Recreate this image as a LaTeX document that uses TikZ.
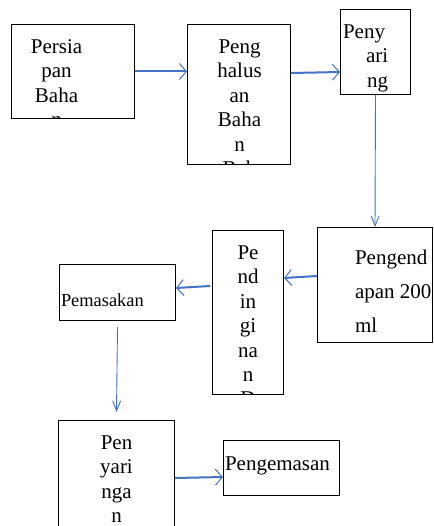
\documentclass[tikz,border=0pt]{standalone}
\usepackage{fontspec}
\setmainfont{Liberation Serif}
\usetikzlibrary{arrows.meta}
\definecolor{arrowblue}{RGB}{68,114,196}
\begin{document}
\begin{tikzpicture}[x=1pt, y=-1pt,
    box/.style = {draw, line width=1pt, anchor=north west, inner sep=0pt},
    txt/.style = {font=\fontsize{21}{24.4}\selectfont, inner sep=0pt, minimum width=0pt, minimum height=0pt, anchor=base, align=center},
    flow/.style = {arrowblue, line width=2pt, -{Straight Barb[length=7pt,width=16pt,line width=1pt]}},
    drop/.style = {arrowblue, line width=0.9pt, -{Straight Barb[length=10pt,width=8pt,line width=0.9pt]}}]
    \useasboundingbox (0,0) rectangle (433,526);
    % boxes, text clipped to each box (base = last line)
    \node[box, minimum width=123pt, minimum height=94pt, path picture={
        \node[txt] at ([xshift=45pt,yshift=-102.2pt]path picture bounding box.north west) {Persia\\pan\\Baha\\n};}] (1) at (11,24) {};
    \node[box, minimum width=103pt, minimum height=140pt, path picture={
        \node[txt] at ([xshift=52pt,yshift=-151pt]path picture bounding box.north west) {Peng\\halus\\an\\Baha\\n\\Bah};}] (2) at (187,24) {};
    \node[box, minimum width=70pt, minimum height=85pt, path picture={
        \node[txt, anchor=base west, align=left] at ([xshift=2pt,yshift=-77.8pt]path picture bounding box.north west) {Peny\\\hspace*{23pt}ari\\\hspace*{24pt}ng};}] (3) at (340,9) {};
    \node[box, minimum width=115pt, minimum height=115pt, path picture={
        \node[txt, anchor=base west, align=left, font=\fontsize{21}{34}\selectfont] at ([xshift=37pt,yshift=-105pt]path picture bounding box.north west) {Pengend\\apan 200\\ml};}] (4) at (317,227) {};
    \node[box, minimum width=71pt, minimum height=164pt, path picture={
        \node[txt] at ([xshift=35.5pt,yshift=-175.4pt]path picture bounding box.north west) {Pe\\nd\\in\\gi\\na\\n\\D};}] (5) at (212,230) {};
    \node[box, minimum width=116pt, minimum height=56pt, path picture={
        \node[txt, anchor=base west, font=\fontsize{18.4}{22}\selectfont] at ([xshift=1pt,yshift=-42pt]path picture bounding box.north west) {Pemasakan};}] (6) at (59,264) {};
    \node[box, minimum width=116pt, minimum height=120pt, path picture={
        \node[txt] at ([xshift=58pt,yshift=-102.2pt]path picture bounding box.north west) {Pen\\yari\\nga\\n};}] (7) at (58,420) {};
    \node[box, minimum width=116pt, minimum height=55pt, path picture={
        \node[txt, anchor=base west] at ([xshift=1pt,yshift=-30pt]path picture bounding box.north west) {Pengemasan};}] (8) at (223,440) {};
    % arrows
    \draw[flow] (1.east) -- (2.west |- 1.east);
    \draw[flow] ([yshift=-49pt]2.north east) -- ([yshift=-63pt]3.north west);
    \draw[drop] (3.south) -- (4.north);
    \draw[flow] ([yshift=-49pt]4.north west) -- ([yshift=-48pt]5.north east);
    \draw[flow] ([xshift=-2pt,yshift=-56pt]5.north west) -- ([yshift=-24pt]6.north east);
    \draw[drop] ([yshift=-6pt]6.south) -- ([yshift=8pt]7.north);
    \draw[flow] ([yshift=-58pt]7.north east) -- ([yshift=-37pt]8.north west);
\end{tikzpicture}
\end{document}
